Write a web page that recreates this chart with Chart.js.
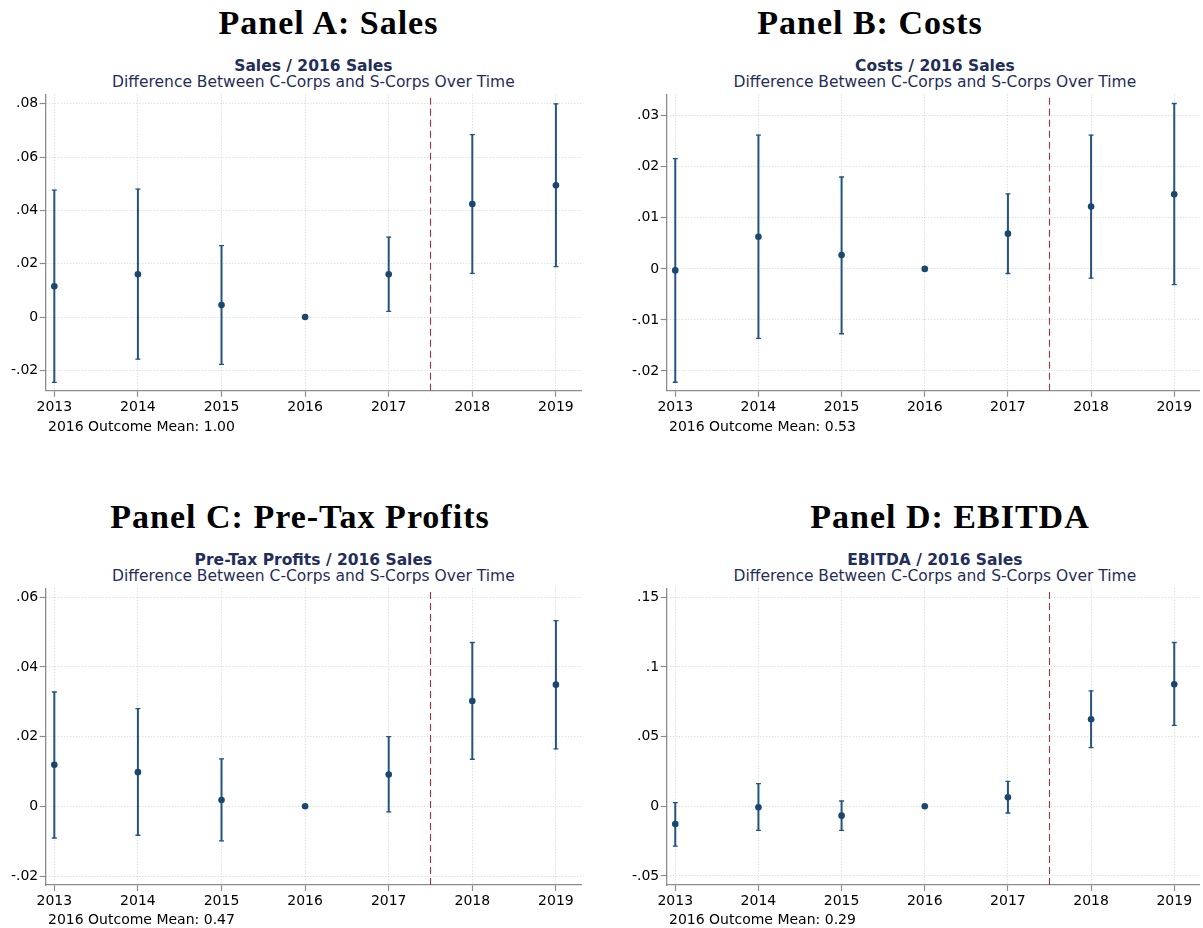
<!DOCTYPE html>
<html>
<head>
<meta charset="utf-8">
<script src="https://cdn.jsdelivr.net/npm/chart.js@4.4.1/dist/chart.umd.min.js"></script>
<style>
  html, body { margin: 0; padding: 0; background: #fff; }
  body { position: relative; width: 1203px; height: 928px; overflow: hidden; font-family: "DejaVu Sans", sans-serif; }
  .hdr { position: absolute; width: 600px; text-align: center; font-family: "Liberation Serif", serif; font-weight: bold;
         font-size: 34px; line-height: 34px; letter-spacing: 1px; color: #000; white-space: nowrap; }
  .t1, .t2 { position: absolute; width: 600px; text-align: center; font-size: 15.5px; line-height: 18.6px; color: #1f2e5a; white-space: nowrap; }
  .t1 { font-weight: bold; }
  .note { position: absolute; font-size: 14px; line-height: 16.8px; color: #000; white-space: nowrap; }
  .box { position: absolute; }
  canvas { display: block; }
</style>
</head>
<body>

<div class="hdr" style="left:28.5px; top:5.8px;">Panel A: Sales</div>
<div class="hdr" style="left:570px; top:5.8px;">Panel B: Costs</div>
<div class="hdr" style="left:0px; top:499.8px;">Panel C: Pre-Tax Profits</div>
<div class="hdr" style="left:650px; top:499.8px;">Panel D: EBITDA</div>

<div class="t1" style="left:13.4px; top:57.4px;">Sales / 2016 Sales</div>
<div class="t2" style="left:13.4px; top:73.4px;">Difference Between C-Corps and S-Corps Over Time</div>
<div class="t1" style="left:634.9px; top:57.4px;">Costs / 2016 Sales</div>
<div class="t2" style="left:634.9px; top:73.4px;">Difference Between C-Corps and S-Corps Over Time</div>
<div class="t1" style="left:13.4px; top:551.4px;">Pre-Tax Profits / 2016 Sales</div>
<div class="t2" style="left:13.4px; top:566.9px;">Difference Between C-Corps and S-Corps Over Time</div>
<div class="t1" style="left:634.9px; top:551.4px;">EBITDA / 2016 Sales</div>
<div class="t2" style="left:634.9px; top:566.9px;">Difference Between C-Corps and S-Corps Over Time</div>

<div class="box" style="left:0px; top:80px;"><canvas id="cA" width="600" height="365"></canvas></div>
<div class="box" style="left:621px; top:80px;"><canvas id="cB" width="582" height="365"></canvas></div>
<div class="box" style="left:0px; top:574px;"><canvas id="cC" width="600" height="354"></canvas></div>
<div class="box" style="left:621px; top:574px;"><canvas id="cD" width="582" height="354"></canvas></div>

<div class="note" style="left:48px; top:417.6px;">2016 Outcome Mean: 1.00</div>
<div class="note" style="left:669px; top:417.6px;">2016 Outcome Mean: 0.53</div>
<div class="note" style="left:48px; top:910.6px;">2016 Outcome Mean: 0.47</div>
<div class="note" style="left:669px; top:910.6px;">2016 Outcome Mean: 0.29</div>

<script>
// Event-study years; 2016 is the omitted reference year (no interval).
const years = [2013, 2014, 2015, 2016, 2017, 2018, 2019];
const reformLine = 2017.5;

// Panel A: Sales / 2016 Sales
const salesEst = [0.0115, 0.0160, 0.0045, 0, 0.0160, 0.0424, 0.0494];
const salesLo  = [-0.0245, -0.0158, -0.0178, null, 0.0021, 0.0164, 0.0189];
const salesHi  = [0.0476, 0.0480, 0.0268, null, 0.0300, 0.0684, 0.0800];
const salesTicks = [-0.02, 0, 0.02, 0.04, 0.06, 0.08];

// Panel B: Costs / 2016 Sales
const costsEst = [-0.0003, 0.0063, 0.0027, 0, 0.0069, 0.0122, 0.0146];
const costsLo  = [-0.0222, -0.0136, -0.0127, null, -0.0009, -0.0018, -0.0031];
const costsHi  = [0.0216, 0.0262, 0.0180, null, 0.0147, 0.0262, 0.0324];
const costsTicks = [-0.02, -0.01, 0, 0.01, 0.02, 0.03];

// Panel C: Pre-Tax Profits / 2016 Sales
const profitEst = [0.0119, 0.0098, 0.0018, 0, 0.0091, 0.0302, 0.0349];
const profitLo  = [-0.0091, -0.0083, -0.0099, null, -0.0016, 0.0135, 0.0165];
const profitHi  = [0.0328, 0.0280, 0.0136, null, 0.0200, 0.0470, 0.0533];
const profitTicks = [-0.02, 0, 0.02, 0.04, 0.06];

// Panel D: EBITDA / 2016 Sales
const ebitdaEst = [-0.0127, -0.0007, -0.0067, 0, 0.0065, 0.0624, 0.0876];
const ebitdaLo  = [-0.0285, -0.0172, -0.0172, null, -0.0048, 0.0421, 0.0581];
const ebitdaHi  = [0.0026, 0.0163, 0.0038, null, 0.0179, 0.0828, 0.1175];
const ebitdaTicks = [-0.05, 0, 0.05, 0.1, 0.15];

const NAVY = '#1a476f';
const WHISKER = '#245581';
const REF_RED = '#a8323a';
const GRID = '#d2d2d2';
const AXIS = '#8c8c8c';

// Stata-style numeric labels: drop the leading zero (".02", "-.01", "0")
function stataFmt(v) {
  if (Math.abs(v) < 1e-12) return '0';
  return String(+v.toFixed(4)).replace(/^(-?)0\./, '$1.');
}

function makePanel(id, est, lo, hi, yTicks, yMin, yMax, xAxisH, padTop, padRight) {
  const pts = years.map((x, i) => ({ x, y: est[i] }));
  const bars = years.map((x, i) => lo[i] == null ? null : { x, y: [lo[i], hi[i]] }).filter(Boolean);
  const caps = [];
  years.forEach((x, i) => {
    if (lo[i] != null) { caps.push({ x, y: lo[i] }); caps.push({ x, y: hi[i] }); }
  });

  new Chart(document.getElementById(id), {
    data: {
      datasets: [
        { type: 'scatter', data: pts, pointRadius: 3.3, pointHoverRadius: 3.3,
          pointBackgroundColor: NAVY, pointBorderColor: NAVY, pointBorderWidth: 0 },
        { type: 'scatter', data: caps, pointStyle: 'line', pointRadius: 2.5, pointHoverRadius: 2.5,
          pointBorderColor: WHISKER, pointBorderWidth: 1.3 },
        { type: 'bar', data: bars, backgroundColor: WHISKER, borderWidth: 0,
          barThickness: 1.35, grouped: false },
        { type: 'line', data: [{ x: reformLine, y: yMin }, { x: reformLine, y: yMax }],
          borderColor: REF_RED, borderWidth: 1.1, borderDash: [7, 4], pointRadius: 0, fill: false }
      ]
    },
    options: {
      responsive: false,
      animation: false,
      events: [],
      layout: { padding: { top: padTop, right: padRight, left: 0, bottom: 0 } },
      plugins: { legend: { display: false }, tooltip: { enabled: false }, title: { display: false } },
      scales: {
        x: {
          type: 'linear', min: 2012.897, max: 2019.30, offset: false,
          afterBuildTicks: s => { s.ticks = years.map(v => ({ value: v })); },
          afterFit: s => { s.height = xAxisH; },
          ticks: { callback: v => String(v), color: '#000', padding: 2, maxRotation: 0, autoSkip: false,
                   font: { family: 'DejaVu Sans', size: 14 } },
          grid: { offset: false, color: GRID, lineWidth: 1, tickLength: 6, tickColor: AXIS, tickWidth: 1.2 },
          border: { display: true, color: AXIS, width: 1.3, dash: [1, 2] }
        },
        y: {
          type: 'linear', min: yMin, max: yMax,
          afterBuildTicks: s => { s.ticks = yTicks.map(v => ({ value: v })); },
          afterFit: s => { s.width = 45.7; },
          ticks: { callback: v => stataFmt(v), color: '#000', padding: 1.5,
                   font: { family: 'DejaVu Sans', size: 14 } },
          grid: { color: GRID, lineWidth: 1, tickLength: 6, tickColor: AXIS, tickWidth: 1.2 },
          border: { display: true, color: AXIS, width: 1.3, dash: [1, 2] }
        }
      }
    }
  });
}

makePanel('cA', salesEst,  salesLo,  salesHi,  salesTicks,  -0.02765, 0.08356, 54.3, 14.3, 19);
makePanel('cB', costsEst,  costsLo,  costsHi,  costsTicks,  -0.02386, 0.03420, 54.3, 14.3, 0);
makePanel('cC', profitEst, profitLo, profitHi, profitTicks, -0.02258, 0.06255, 43.0, 14.3, 19);
makePanel('cD', ebitdaEst, ebitdaLo, ebitdaHi, ebitdaTicks, -0.05646, 0.15640, 43.0, 14.3, 0);
</script>
</body>
</html>
